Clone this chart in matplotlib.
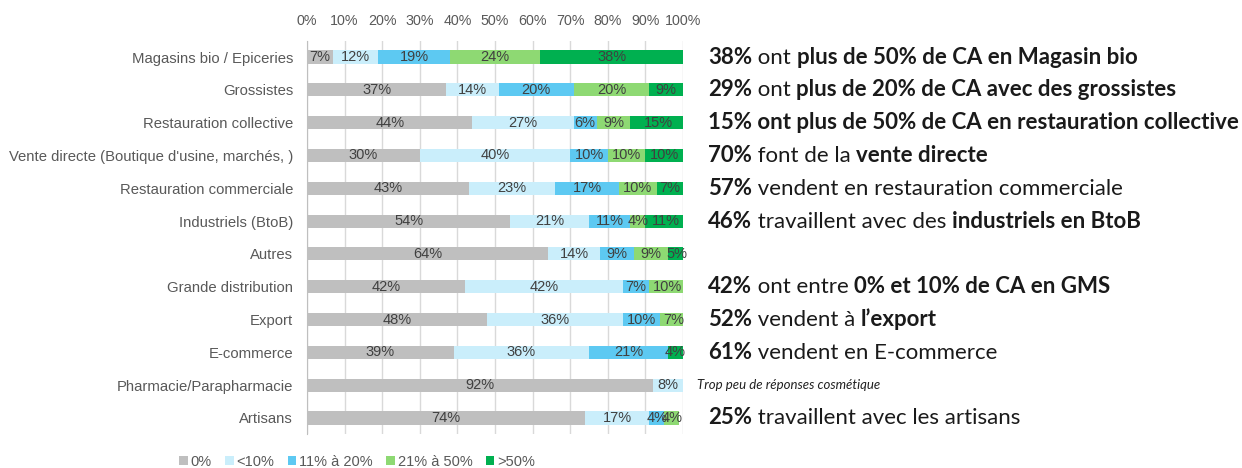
import numpy as np
import matplotlib.pyplot as plt
from matplotlib.patches import Patch

# categories (top to bottom)
categories = ['Magasins bio / Epiceries', 'Grossistes', 'Restauration collective',
              "Vente directe (Boutique d'usine, marchés, )", 'Restauration commerciale',
              'Industriels (BtoB)', 'Autres', 'Grande distribution', 'Export',
              'E-commerce', 'Pharmacie/Parapharmacie', 'Artisans']

series_names = ['0%', '<10%', '11% à 20%', '21% à 50%', '>50%']
colors = ['#BFBFBF', '#CAEEFB', '#5DC9F2', '#8ED973', '#00B050']

# percentages for each class, per category
v_0 = [7, 37, 44, 30, 43, 54, 64, 42, 48, 39, 92, 74]
v_lt10 = [12, 14, 27, 40, 23, 21, 14, 42, 36, 36, 8, 17]
v_11_20 = [19, 20, 6, 10, 17, 11, 9, 7, 10, 21, 0, 4]
v_21_50 = [24, 20, 9, 10, 10, 4, 9, 10, 7, 0, 0, 4]
v_gt50 = [38, 9, 15, 10, 7, 11, 5, 0, 0, 4, 0, 0]
values = [v_0, v_lt10, v_11_20, v_21_50, v_gt50]

# comments on the right: list of (text, bold) pieces per row
comments = {
    0: [('38%', True), (' ont ', False), ('plus de 50% de CA en Magasin bio', True)],
    1: [('29%', True), (' ont ', False), ('plus de 20% de CA avec des grossistes', True)],
    2: [('15% ont plus de 50% de CA en restauration collective', True)],
    3: [('70%', True), (' font de la ', False), ('vente directe', True)],
    4: [('57%', True), (' vendent en restauration commerciale', False)],
    5: [('46%', True), (' travaillent avec des ', False), ('industriels en BtoB', True)],
    7: [('42%', True), (' ont entre ', False), ('0% et 10% de CA en GMS', True)],
    8: [('52%', True), (' vendent à ', False), ('l\u2019export', True)],
    9: [('61%', True), (' vendent en E-commerce', False)],
    11: [('25%', True), (' travaillent avec les artisans', False)],
}
note_row = 10
note_text = 'Trop peu de réponses cosmétique'

plt.rcParams['font.family'] = ['Liberation Sans', 'DejaVu Sans']

fig = plt.figure(figsize=(12.42, 4.68), dpi=100)
ax = fig.add_axes([307 / 1242, 1 - 434.4 / 468, 376 / 1242, 393.8 / 468])

y = np.arange(len(categories))
left = np.zeros(len(categories))
for name, vals, col in zip(series_names, values, colors):
    vals = np.array(vals, dtype=float)
    bars = ax.barh(y, vals, left=left, height=0.4, color=col, label=name, zorder=3)
    for b, v in zip(bars, vals):
        if v > 0:
            ax.text(b.get_x() + b.get_width() / 2, b.get_y() + b.get_height() / 2,
                    f'{int(v)}%', ha='center', va='center', fontsize=10.5,
                    color='#404040', zorder=4)
    left += vals

ax.set_xlim(0, 100)
ax.set_ylim(11.5, -0.5)
ax.set_xticks(np.arange(0, 101, 10))
ax.set_xticklabels([f'{t}%' for t in range(0, 101, 10)])
ax.xaxis.tick_top()
ax.tick_params(axis='x', length=0, pad=9, labelsize=10.3, labelcolor='#595959')
ax.set_yticks(y)
ax.set_yticklabels(categories)
ax.tick_params(axis='y', length=0, pad=10, labelsize=10.7, labelcolor='#595959')
ax.grid(axis='x', color='#D9D9D9', linewidth=1, zorder=0)
for s in ['top', 'right', 'bottom']:
    ax.spines[s].set_visible(False)
ax.spines['left'].set_color('#BFBFBF')

# right-hand comments, pieces chained one after another
for row, pieces in comments.items():
    prev = None
    for txt, bold in pieces:
        w = 'bold' if bold else 'normal'
        if prev is None:
            prev = ax.annotate(txt, xy=(708 / 1242, row), xycoords=('figure fraction', 'data'),
                               va='center', ha='left', fontsize=16, family='Lato',
                               fontweight=w, color='#1a1a1a', annotation_clip=False)
        else:
            prev = ax.annotate(txt, xy=(1, 0), xycoords=prev, va='bottom', ha='left',
                               fontsize=16, family='Lato', fontweight=w,
                               color='#1a1a1a', annotation_clip=False)

ax.annotate(note_text, xy=(697 / 1242, note_row), xycoords=('figure fraction', 'data'),
            va='center', ha='left', fontsize=9.5, family='Lato', style='italic',
            color='#222222', annotation_clip=False)

handles = [Patch(facecolor=c, edgecolor='none', label=n) for n, c in zip(series_names, colors)]
leg = fig.legend(handles=handles, loc='lower left', bbox_to_anchor=(166 / 1242, -0.03),
                 ncol=5, frameon=False, fontsize=10.5, handlelength=0.6, handleheight=0.6,
                 handletextpad=0.2, columnspacing=0.9)
for t in leg.get_texts():
    t.set_color('#595959')

fig.savefig('out.png', dpi=100)
